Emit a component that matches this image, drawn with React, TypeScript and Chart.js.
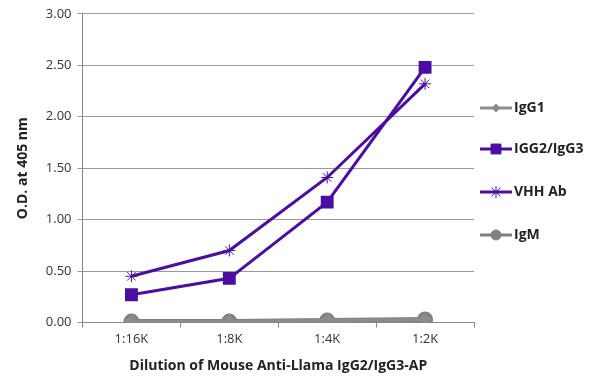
import React, { useEffect, useRef } from "react";
import { Chart, registerables } from "chart.js";
import { drawPoint } from "chart.js/helpers";

Chart.register(...registerables);

const categories = ["1:16K", "1:8K", "1:4K", "1:2K"];
const igg1 = [0.01, 0.01, 0.02, 0.03];
const igg2igg3 = [0.27, 0.43, 1.17, 2.48];
const vhh = [0.45, 0.7, 1.41, 2.32];
const igm = [0.01, 0.01, 0.02, 0.03];
const yTicks = [0, 0.5, 1, 1.5, 2, 2.5, 3];

const PURPLE = "#4a0ea3";
const GRAY = "#808080";
const FONT = "'Open Sans', 'Noto Sans', sans-serif";

const legendPlugin = {
  id: "sideLegend",
  afterDraw(chart: any) {
    const ctx = chart.ctx;
    const ys = [108, 149, 192, 235];
    chart.data.datasets.forEach((ds: any, i: number) => {
      const y = ys[i];
      ctx.save();
      ctx.strokeStyle = ds.borderColor;
      ctx.lineWidth = ds.legendLineWidth;
      ctx.beginPath();
      ctx.moveTo(480, y);
      ctx.lineTo(512, y);
      ctx.stroke();
      ctx.fillStyle = ds.backgroundColor;
      ctx.strokeStyle = ds.borderColor;
      ctx.lineWidth = ds.pointBorderWidth ?? 1;
      drawPoint(
        ctx,
        {
          pointStyle: ds.pointStyle,
          radius: ds.legendRadius,
          borderWidth: ds.pointBorderWidth ?? 1,
          rotation: 0,
        } as any,
        496,
        y
      );
      ctx.restore();
      ctx.save();
      ctx.fillStyle = "#222";
      ctx.font = `bold 14px ${FONT}`;
      ctx.textBaseline = "middle";
      ctx.textAlign = "left";
      ctx.fillText(ds.label, 514, y);
      ctx.restore();
    });
  },
};

export default function App() {
  const ref = useRef<HTMLCanvasElement>(null);
  useEffect(() => {
    const canvas = ref.current!;
    const chart = new Chart(canvas, {
      type: "line",
      data: {
        labels: categories,
        datasets: [
          {
            label: "IgG1",
            data: igg1,
            borderColor: "#8c8c8c",
            backgroundColor: "#8c8c8c",
            borderWidth: 3,
            pointStyle: "rectRot",
            pointRadius: 5,
            legendRadius: 4,
            legendLineWidth: 3,
          } as any,
          {
            label: "IGG2/IgG3",
            data: igg2igg3,
            borderColor: PURPLE,
            backgroundColor: PURPLE,
            borderWidth: 3,
            pointStyle: "rect",
            pointRadius: 7,
            legendRadius: 7,
            legendLineWidth: 3,
          } as any,
          {
            label: "VHH Ab",
            data: vhh,
            borderColor: PURPLE,
            backgroundColor: PURPLE,
            borderWidth: 3,
            pointStyle: "star",
            pointRadius: 6,
            pointBorderWidth: 1,
            legendRadius: 6,
            legendLineWidth: 3,
          } as any,
          {
            label: "IgM",
            data: igm,
            borderColor: GRAY,
            backgroundColor: GRAY,
            borderWidth: 5,
            pointStyle: "circle",
            pointRadius: 5.5,
            legendRadius: 5,
            legendLineWidth: 3,
          } as any,
        ],
      },
      options: {
        animation: false,
        responsive: false,
        layout: { padding: { left: 15, right: 126, top: 10, bottom: 15 } },
        plugins: { legend: { display: false }, tooltip: { enabled: false } },
        elements: { line: { tension: 0 } },
        scales: {
          x: {
            offset: true,
            grid: {
              offset: true,
              drawOnChartArea: false,
              drawTicks: true,
              tickLength: 5,
              color: "#888",
            },
            border: { color: "#888", width: 1 },
            ticks: { color: "#333", font: { family: FONT, size: 13 }, padding: 4 },
            title: {
              display: true,
              text: "Dilution of Mouse Anti-Llama IgG2/IgG3-AP",
              color: "#222",
              font: { family: FONT, size: 14, weight: "bold" },
              padding: { top: 6, bottom: 0 },
            },
          },
          y: {
            min: 0,
            max: 3,
            afterBuildTicks: (axis: any) => {
              axis.ticks = yTicks.map((v) => ({ value: v }));
            },
            grid: { color: "#999", tickLength: 5, drawTicks: true },
            border: { color: "#888", width: 1 },
            ticks: {
              color: "#333",
              font: { family: FONT, size: 13 },
              padding: 6,
              callback: (v: any) => Number(v).toFixed(2),
            },
            title: {
              display: true,
              text: "O.D. at 405 nm",
              color: "#222",
              font: { family: FONT, size: 14, weight: "bold" },
              padding: { top: 0, bottom: 8 },
            },
          },
        },
      },
      plugins: [legendPlugin],
    });
    return () => chart.destroy();
  }, []);
  return (
    <div style={{ position: "fixed", left: 0, top: 0, width: 600, height: 389, background: "#fff" }}>
      <canvas ref={ref} width={600} height={389} />
    </div>
  );
}
